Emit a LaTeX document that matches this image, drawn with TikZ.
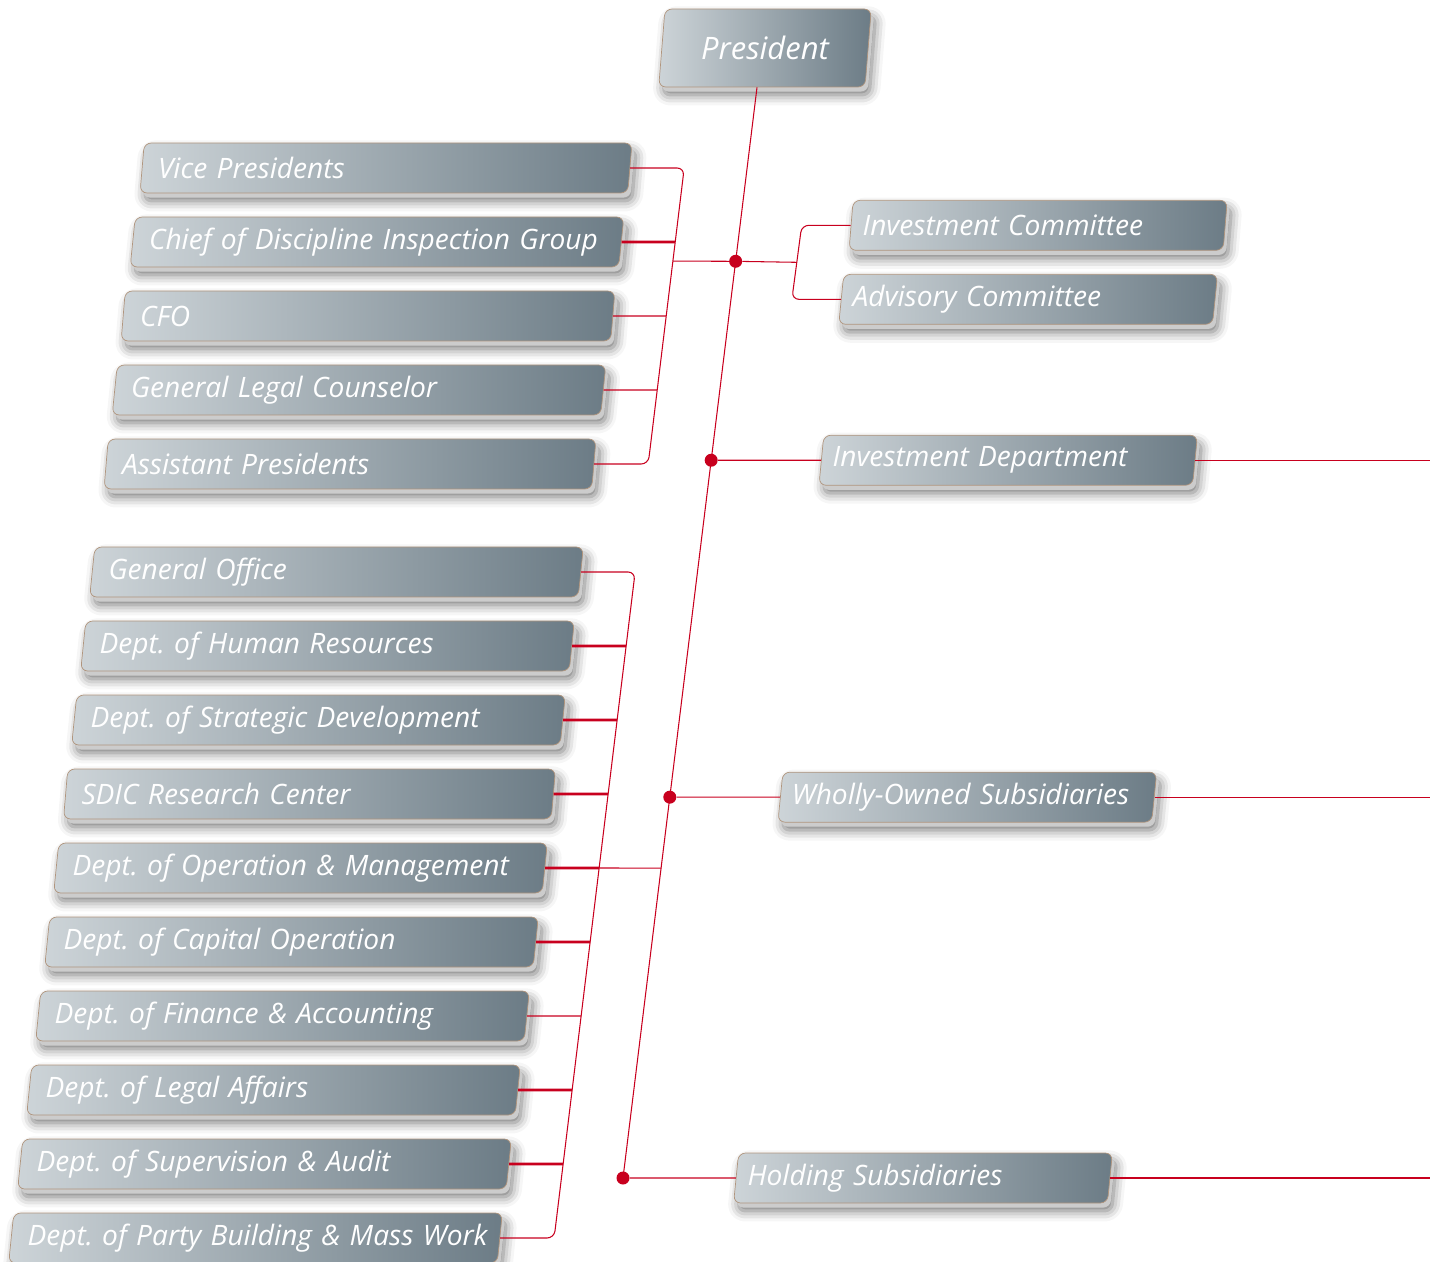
\documentclass[tikz,border=0pt]{standalone}
\usepackage{fontspec}
\setmainfont{Open Sans}
\usepackage{xcolor}
\usetikzlibrary{shapes.geometric, positioning, calc, shadows, shadows.blur}
\definecolor{boxlight}{HTML}{CDD4D8}
\definecolor{boxdark}{HTML}{6C7C86}
\definecolor{boxrim}{HTML}{B0957E}
\definecolor{linkred}{HTML}{C8001E}
\tikzstyle{card} = [trapezium, trapezium left angle=83, trapezium right angle=97, trapezium stretches=true, draw=boxrim, line width=0.4pt, left color=boxlight, right color=boxdark, rounded corners=4pt, minimum height=1cm, text=white, font=\itshape\frenchspacing\fontsize{16}{18}\selectfont, align=left, blur shadow={shadow xshift=2.5pt, shadow yshift=-4.5pt, shadow blur radius=6pt, shadow opacity=55}, general shadow={fill=black!20, shadow xshift=1.6pt, shadow yshift=-2.6pt}]
\tikzstyle{leftcard} = [card, minimum width=9.88cm, text width=9.12cm]
\tikzstyle{rightcard} = [card, minimum width=7.58cm, text width=7.02cm]
\tikzstyle{link} = [draw=linkred, line width=0.6pt]
\tikzstyle{heavy} = [draw=linkred, line width=1.5pt]
\tikzstyle{junction} = [circle, fill=linkred, inner sep=0pt, minimum size=0.26cm]

\begin{document}
\begin{tikzpicture}
\useasboundingbox (0,0) rectangle (28.6,-25.24);

\node[card, minimum width=4.28cm, minimum height=1.56cm, font=\itshape\fontsize{17.6}{20}\selectfont] (pres) at (15.3,-0.96) {President};

% trunk and its junctions
\coordinate (top) at ([xshift=-0.16cm]pres.south);
\node[junction] (dD) at (12.46,-23.56) {};
\node[junction] (dA) at ($(top)!0.1595!(dD)$) {};
\node[junction] (dB) at ($(top)!0.3419!(dD)$) {};
\node[junction] (dC) at ($(top)!0.6508!(dD)$) {};
\coordinate (omx) at ($(top)!0.7159!(dD)$);
\coordinate (rim) at (28.6,0);

% leaders
\node[leftcard] (vp) at (7.72,-3.36) {Vice Presidents};
\node[leftcard] (cdi) at ([shift={(-0.18,-1.48)}]vp) {Chief of Discipline Inspection Group};
\node[leftcard] (cfo) at ([shift={(-0.18,-1.48)}]cdi) {CFO};
\node[leftcard] (glc) at ([shift={(-0.18,-1.48)}]cfo) {General Legal Counselor};
\node[leftcard] (ap) at ([shift={(-0.18,-1.48)}]glc) {Assistant Presidents};

% committees
\node[rightcard] (ic) at ([shift={(6.05,0.72)}]dA) {Investment Committee};
\node[rightcard] (ac) at ([shift={(-0.2,-1.48)}]ic) {Advisory Committee};

% departments
\node[leftcard] (go) at (6.73,-11.44) {General Office};
\node[leftcard] (hr) at ([shift={(-0.18,-1.48)}]go) {Dept. of Human Resources};
\node[leftcard] (sd) at ([shift={(-0.18,-1.48)}]hr) {Dept. of Strategic Development};
\node[leftcard] (src) at ([shift={(-0.18,-1.48)}]sd) {SDIC Research Center};
\node[leftcard] (om) at ([shift={(-0.18,-1.48)}]src) {Dept. of Operation \& Management};
\node[leftcard] (cap) at ([shift={(-0.18,-1.48)}]om) {Dept. of Capital Operation};
\node[leftcard] (fa) at ([shift={(-0.18,-1.48)}]cap) {Dept. of Finance \& Accounting};
\node[leftcard] (la) at ([shift={(-0.18,-1.48)}]fa) {Dept. of Legal Affairs};
\node[leftcard] (sa) at ([shift={(-0.18,-1.48)}]la) {Dept. of Supervision \& Audit};
\node[leftcard] (pb) at ([shift={(-0.18,-1.48)}]sa) {\mbox{Dept. of Party Building \& Mass Work}};

% subsidiaries
\node[rightcard] (id) at ([xshift=5.94cm]dB) {Investment Department};
\node[rightcard] (wos) at ([xshift=5.95cm]dC) {Wholly-Owned Subsidiaries};
\node[rightcard] (hs) at ([xshift=6.0cm]dD) {Holding Subsidiaries};

% brackets
\coordinate (g1top) at ([xshift=1.08cm]vp.east);
\coordinate (g1bot) at ([xshift=1.08cm]ap.east);
\coordinate (r1top) at ([xshift=-0.98cm]ic.west);
\coordinate (r1bot) at ([xshift=-0.98cm]ac.west);
\coordinate (g2top) at ([xshift=1.08cm]go.east);
\coordinate (g2bot) at ([xshift=1.08cm]pb.east);

\draw[link] (top) -- (dD.center);

\draw[link, rounded corners=4pt] (vp.east) -- (g1top) -- (g1bot) -- (ap.east);
\draw[heavy] (cdi.east) -- ($(g1top)!0.25!(g1bot)$);
\draw[link] (cfo.east) -- ($(g1top)!0.5!(g1bot)$);
\draw[link] (glc.east) -- ($(g1top)!0.75!(g1bot)$);
\draw[link] ($(g1top)!0.3145!(g1bot)$) -- (dA) -- ($(r1top)!0.5!(r1bot)$);
\draw[link, rounded corners=4pt] (ic.west) -- (r1top) -- (r1bot) -- (ac.west);

\draw[link, rounded corners=4pt] (go.east) -- (g2top) -- (g2bot) -- (pb.east);
\draw[heavy] (hr.east) -- ($(g2top)!0.1111!(g2bot)$);
\draw[heavy] (sd.east) -- ($(g2top)!0.2222!(g2bot)$);
\draw[heavy] (src.east) -- ($(g2top)!0.3333!(g2bot)$);
\draw[heavy] (om.east) -- ($(g2top)!0.4444!(g2bot)$);
\draw[link] ($(g2top)!0.4444!(g2bot)$) -- (omx);
\draw[heavy] (cap.east) -- ($(g2top)!0.5556!(g2bot)$);
\draw[link] (fa.east) -- ($(g2top)!0.6667!(g2bot)$);
\draw[heavy] (la.east) -- ($(g2top)!0.7778!(g2bot)$);
\draw[heavy] (sa.east) -- ($(g2top)!0.8889!(g2bot)$);

\draw[link] (dB) -- (id);
\draw[link] (dC) -- (wos);
\draw[link] (dD) -- (hs);
\draw[link] (id.east) -- (id.east -| rim);
\draw[link] (wos.east) -- (wos.east -| rim);
\draw[link] (hs.east) -- (hs.east -| rim);

\end{tikzpicture}
\end{document}
